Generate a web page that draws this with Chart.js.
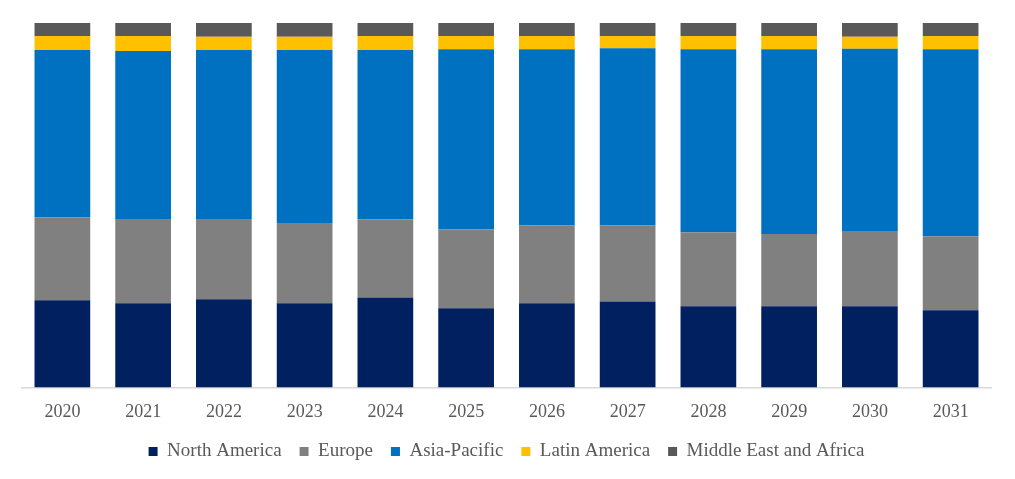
<!DOCTYPE html>
<html>
<head>
<meta charset="utf-8">
<script src="https://cdn.jsdelivr.net/npm/chart.js@4"></script>
<style>
  html, body { margin: 0; padding: 0; background: #fff; }
  #wrap { width: 1015px; height: 479px; }
</style>
</head>
<body>
<div id="wrap"><canvas id="chart"></canvas></div>
<script>
/* Podíl regionů (%) 2020–2031, 100% skládané sloupce */
const YEARS = ['2020','2021','2022','2023','2024','2025','2026','2027','2028','2029','2030','2031'];

const NORTH_AMERICA = [23.9, 23.1, 24.2, 23.1, 24.7, 21.7, 23.1, 23.6, 22.3, 22.3, 22.3, 21.2];
const EUROPE        = [22.8, 23.1, 22.0, 22.0, 21.4, 21.7, 21.4, 20.9, 20.3, 19.8, 20.6, 20.3];
const ASIA_PACIFIC  = [45.9, 46.1, 46.4, 47.5, 46.5, 49.4, 48.3, 48.6, 50.2, 50.7, 50.0, 51.3];
const LATIN_AMERICA = [3.8, 4.1, 3.6, 3.6, 3.8, 3.6, 3.6, 3.3, 3.6, 3.6, 3.3, 3.6];
const MEA           = [3.6, 3.6, 3.8, 3.8, 3.6, 3.6, 3.6, 3.6, 3.6, 3.6, 3.8, 3.6];

const SERIES = [
  { label: 'North America',          data: NORTH_AMERICA, color: '#002060' },
  { label: 'Europe',                 data: EUROPE,        color: '#808080' },
  { label: 'Asia-Pacific',           data: ASIA_PACIFIC,  color: '#0070C0' },
  { label: 'Latin America',          data: LATIN_AMERICA, color: '#FFC000' },
  { label: 'Middle East and Africa', data: MEA,           color: '#595959' },
];

const SERIF = '"Liberation Serif", "Times New Roman", serif';

Chart.defaults.font.family = SERIF;
Chart.defaults.color = '#595959';

new Chart(document.getElementById('chart'), {
  type: 'bar',
  data: {
    labels: YEARS,
    datasets: SERIES.map(s => ({
      label: s.label,
      data: s.data,
      backgroundColor: s.color,
      borderWidth: 0,
      barPercentage: 0.69,
      categoryPercentage: 1.0,
    }))
  },
  options: {
    responsive: true, maintainAspectRatio: false,
    animation: false,
    layout: { padding: { left: 22, right: 24, top: 23, bottom: 8 } },
    plugins: {
      legend: {
        position: 'bottom',
        labels: {
          boxWidth: 9, boxHeight: 9, padding: 18,
          color: '#595959',
          font: { size: 19, family: SERIF }
        }
      },
      tooltip: { enabled: false },
    },
    scales: {
      x: {
        stacked: true,
        grid: { display: false, drawTicks: false },
        border: { color: '#d9d9d9', width: 1.5 },
        ticks: { padding: 14, color: '#595959', font: { size: 18, family: SERIF } },
        // osa x zabere méně místa, legenda je blíž k popiskům
        afterFit: (scale) => { scale.height -= 13; }
      },
      y: {
        stacked: true,
        display: false,
        min: 0, max: 100,
      }
    }
  }
});
</script>
</body>
</html>
